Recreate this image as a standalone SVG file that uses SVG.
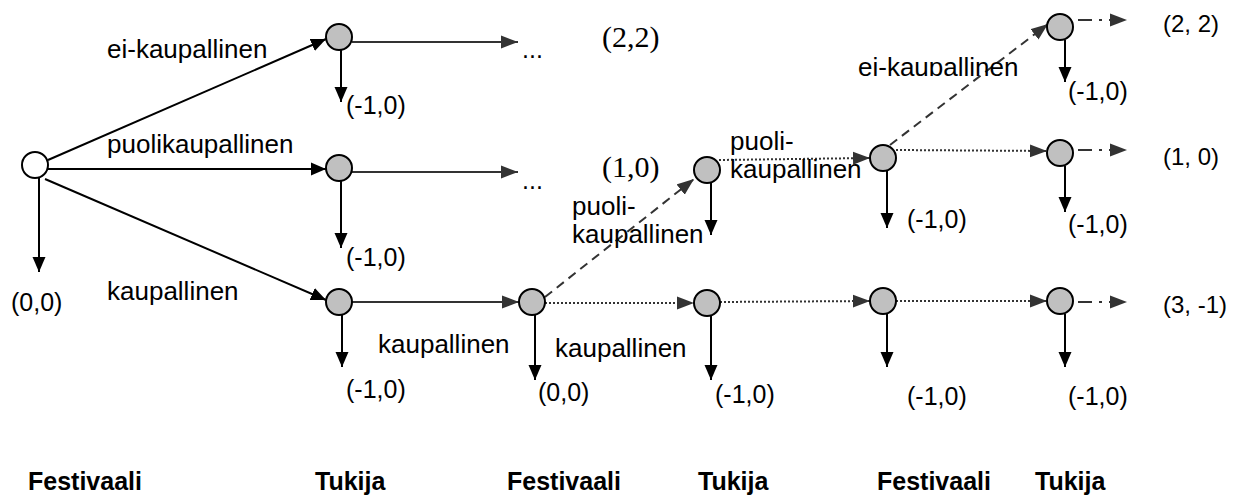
<svg xmlns="http://www.w3.org/2000/svg" width="1243" height="495" viewBox="0 0 1243 495">
<style>
.t{font-family:"Liberation Sans",Arial,sans-serif;font-size:25px;fill:#000}
.l{font-family:"Liberation Sans",Arial,sans-serif;font-size:26px;fill:#000}
.p{font-family:"Liberation Sans",Arial,sans-serif;font-size:24px;fill:#000}
.b{font-family:"Liberation Sans",Arial,sans-serif;font-size:25px;font-weight:bold;fill:#000}
.s{font-family:"Liberation Serif","Times New Roman",serif;font-size:30px;fill:#000}
.n{fill:#c0c0c0;stroke:#000;stroke-width:2}
.r{fill:#fff;stroke:#000;stroke-width:2}
.k{stroke:#000;stroke-width:2;fill:none;marker-end:url(#ak)}
.g{stroke:#333;stroke-width:2;fill:none;marker-end:url(#ag)}
.d{stroke:#333;stroke-width:2;fill:none;stroke-dasharray:9 6;marker-end:url(#ag)}
.o{stroke:#333;stroke-width:2;fill:none;stroke-dasharray:2 2;marker-end:url(#ag)}
.dd{stroke:#333;stroke-width:2;fill:none;stroke-dasharray:14 7 3 7;marker-end:url(#ag)}
</style>
<defs>
<marker id="ak" markerUnits="userSpaceOnUse" markerWidth="16" markerHeight="14" refX="15" refY="7" orient="auto" viewBox="0 0 16 14"><path d="M0,0.5 L15,7 L0,13.5 z" fill="#000"/></marker>
<marker id="ag" markerUnits="userSpaceOnUse" markerWidth="18" markerHeight="14" refX="17" refY="7" orient="auto" viewBox="0 0 18 14"><path d="M0,0.5 L17,7 L0,13.5 z" fill="#333"/></marker>
<clipPath id="cl"><rect x="850" y="50" width="200" height="26"/></clipPath>
</defs>
<g id="connectors">
<line class="k" x1="48" y1="160" x2="326" y2="39"/>
<line class="k" x1="48" y1="169" x2="326" y2="169"/>
<line class="k" x1="45" y1="179" x2="326" y2="300"/>
<line class="k" x1="39" y1="178" x2="39" y2="272"/>
<line class="k" x1="341" y1="50" x2="341" y2="102"/>
<line class="k" x1="341" y1="181" x2="341" y2="248"/>
<line class="k" x1="342" y1="315" x2="342" y2="367"/>
<line class="g" x1="352" y1="42" x2="518" y2="42"/>
<line class="g" x1="352" y1="172" x2="518" y2="172"/>
<line class="g" x1="352" y1="302" x2="519" y2="302"/>
<line class="k" x1="535" y1="315" x2="535" y2="380"/>
<line class="d" x1="545" y1="297" x2="694" y2="179"/>
<line class="o" x1="545" y1="303" x2="694" y2="303"/>
<line class="k" x1="711" y1="183" x2="711" y2="235"/>
<line class="k" x1="711" y1="316" x2="711" y2="380"/>
<line class="o" x1="719" y1="160" x2="870" y2="158"/>
<line class="o" x1="720" y1="302" x2="870" y2="301"/>
<line class="k" x1="887" y1="171" x2="887" y2="228"/>
<line class="k" x1="887" y1="314" x2="887" y2="367"/>
<line class="d" x1="890" y1="145" x2="1048" y2="24"/>
<line class="o" x1="896" y1="150" x2="1047" y2="151"/>
<line class="o" x1="896" y1="301" x2="1047" y2="301"/>
<line class="k" x1="1065" y1="40" x2="1065" y2="82"/>
<line class="k" x1="1065" y1="166" x2="1065" y2="212"/>
<line class="k" x1="1065" y1="314" x2="1065" y2="367"/>
<line class="dd" x1="1078" y1="20" x2="1127" y2="20"/>
<line class="dd" x1="1078" y1="150" x2="1127" y2="150"/>
<line class="dd" x1="1078" y1="302" x2="1127" y2="302"/>
</g>
<g id="root"><circle class="r" cx="35" cy="165" r="13"/></g>
<g id="t1a"><circle class="n" cx="339" cy="37" r="13"/></g>
<g id="t1b"><circle class="n" cx="339" cy="168" r="13"/></g>
<g id="t1c"><circle class="n" cx="339" cy="302" r="13"/></g>
<g id="f2"><circle class="n" cx="532" cy="302" r="13"/></g>
<g id="t2a"><circle class="n" cx="707" cy="170" r="13"/></g>
<g id="t2b"><circle class="n" cx="707" cy="303" r="13"/></g>
<g id="f3a"><circle class="n" cx="883" cy="158" r="13"/></g>
<g id="f3b"><circle class="n" cx="883" cy="301" r="13"/></g>
<g id="t3a"><circle class="n" cx="1060" cy="27" r="13"/></g>
<g id="t3b"><circle class="n" cx="1060" cy="153" r="13"/></g>
<g id="t3c"><circle class="n" cx="1060" cy="301" r="13"/></g>
<g id="labels">
<text class="l" x="107" y="58">ei-kaupallinen</text>
<text class="l" x="107" y="153">puolikaupallinen</text>
<text class="l" x="107" y="300">kaupallinen</text>
<text class="t" x="11" y="311">(0,0)</text>
<text class="t" x="346" y="114">(-1,0)</text>
<text class="t" x="346" y="266">(-1,0)</text>
<text class="t" x="346" y="398">(-1,0)</text>
<text class="t" x="522" y="58">...</text>
<text class="t" x="522" y="189">...</text>
<text class="s" x="602" y="47">(2,2)</text>
<text class="s" x="602" y="177">(1,0)</text>
<text class="l" x="572" y="215">puoli-</text>
<text class="l" x="572" y="243">kaupallinen</text>
<text class="l" x="730" y="150">puoli-</text>
<text class="l" x="730" y="178">kaupallinen</text>
<text class="l" x="378" y="353">kaupallinen</text>
<text class="l" x="555" y="357">kaupallinen</text>
<text class="t" x="538" y="401">(0,0)</text>
<text class="t" x="715" y="403">(-1,0)</text>
<text class="t" x="907" y="228">(-1,0)</text>
<text class="t" x="907" y="405">(-1,0)</text>
<text class="t" x="1068" y="100">(-1,0)</text>
<text class="t" x="1068" y="233">(-1,0)</text>
<text class="t" x="1068" y="405">(-1,0)</text>
<text class="l" x="858" y="76" clip-path="url(#cl)">ei-kaupallinen</text>
<text class="p" x="1163" y="32">(2, 2)</text>
<text class="p" x="1163" y="165">(1, 0)</text>
<text class="p" x="1163" y="313">(3, -1)</text>
<text class="b" x="28" y="490">Festivaali</text>
<text class="b" x="315" y="490">Tukija</text>
<text class="b" x="507" y="490">Festivaali</text>
<text class="b" x="698" y="490">Tukija</text>
<text class="b" x="877" y="490">Festivaali</text>
<text class="b" x="1035" y="490">Tukija</text>
</g>
</svg>
